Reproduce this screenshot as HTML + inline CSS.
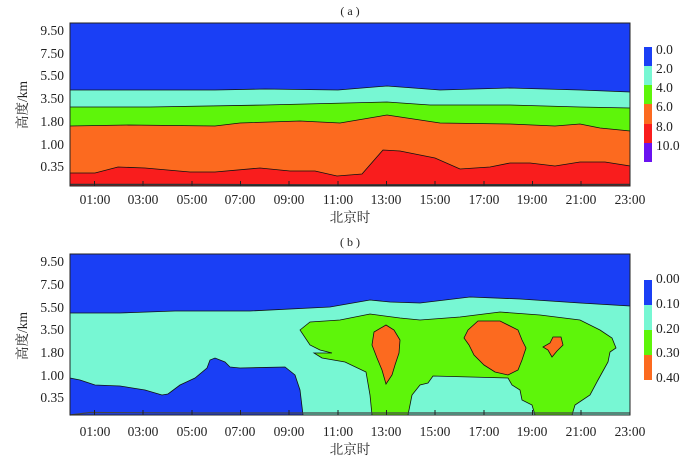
<!DOCTYPE html>
<html><head><meta charset="utf-8"><style>
body{margin:0;background:#fff}
svg text{font-family:"Liberation Serif","Noto Serif CJK SC",serif;fill:#222}
</style></head><body>
<svg width="700" height="460" viewBox="0 0 700 460" xmlns="http://www.w3.org/2000/svg">
<text x="350" y="15" font-size="12" text-anchor="middle">( a )</text>
<g stroke="#111" stroke-width="0.8">
<rect x="70" y="23" width="560" height="163" fill="#1a3ff5" stroke="none"/>
<path d="M70,90 L150,90 L215,90 L265,89 L338,90 L387,86 L440,90 L510,88 L580,90 L630,92 L630,186 L70,186Z" fill="#77f7d3"/>
<path d="M70,107 L150,107 L265,105 L387,102 L430,105 L510,105 L580,107 L630,108 L630,186 L70,186Z" fill="#5ef50a"/>
<path d="M70,126 L130,125 L215,126 L240,123 L300,121 L340,123 L387,115 L440,123 L510,124 L555,126 L580,124 L600,128 L630,131 L630,186 L70,186Z" fill="#fc6a1f"/>
<path d="M70,173 L95,173 L118,167 L145,168 L190,172 L215,172 L260,168 L290,171 L315,171 L337,176 L362,174 L383,150 L400,151 L435,158 L460,169 L490,167 L510,163 L530,163 L555,166 L580,162 L605,162 L630,166 L630,186 L70,186Z" fill="#f91d1d"/>
<path d="M70,184.5 L200,184.5 L340,185 L630,184.5" fill="none" stroke="#333" stroke-width="1.5"/>
</g>
<rect x="70" y="23" width="560" height="163" fill="none" stroke="#222" stroke-width="1"/>
<g font-size="13.5">
<text x="64" y="35" text-anchor="end">9.50</text>
<text x="64" y="58" text-anchor="end">7.50</text>
<text x="64" y="80" text-anchor="end">5.50</text>
<text x="64" y="103" text-anchor="end">3.50</text>
<text x="64" y="126" text-anchor="end">1.80</text>
<text x="64" y="149" text-anchor="end">1.00</text>
<text x="64" y="171" text-anchor="end">0.35</text>
</g>
<text transform="translate(27,105) rotate(-90)" font-size="13.5" text-anchor="middle">高度/km</text>
<g stroke="#222" stroke-width="1">
<line x1="94.5" y1="186" x2="94.5" y2="181"/><line x1="143" y1="186" x2="143" y2="181"/><line x1="192" y1="186" x2="192" y2="181"/><line x1="240.5" y1="186" x2="240.5" y2="181"/><line x1="289" y1="186" x2="289" y2="181"/><line x1="338" y1="186" x2="338" y2="181"/><line x1="386.5" y1="186" x2="386.5" y2="181"/><line x1="435" y1="186" x2="435" y2="181"/><line x1="484" y1="186" x2="484" y2="181"/><line x1="532.5" y1="186" x2="532.5" y2="181"/><line x1="581" y1="186" x2="581" y2="181"/>
</g>
<g font-size="13.5" text-anchor="middle">
<text x="95" y="204">01:00</text><text x="143" y="204">03:00</text><text x="192" y="204">05:00</text><text x="240" y="204">07:00</text><text x="289" y="204">09:00</text><text x="338" y="204">11:00</text><text x="386" y="204">13:00</text><text x="435" y="204">15:00</text><text x="484" y="204">17:00</text><text x="532" y="204">19:00</text><text x="581" y="204">21:00</text><text x="630" y="204">23:00</text>
</g>
<text x="350" y="222" font-size="13.5" text-anchor="middle">北京时</text>
<rect x="644" y="47" width="8" height="19" fill="#1a3ff5"/>
<rect x="644" y="66" width="8" height="19" fill="#77f7d3"/>
<rect x="644" y="85" width="8" height="19" fill="#5ef50a"/>
<rect x="644" y="104" width="8" height="20" fill="#fc6a1f"/>
<rect x="644" y="124" width="8" height="19" fill="#f91d1d"/>
<rect x="644" y="143" width="8" height="19" fill="#6a12f0"/>
<g font-size="13.5">
<text x="656" y="54">0.0</text><text x="656" y="73">2.0</text><text x="656" y="92">4.0</text><text x="656" y="111">6.0</text><text x="656" y="131">8.0</text><text x="656" y="150">10.0</text>
</g>

<text x="350" y="246" font-size="12" text-anchor="middle">( b )</text>
<g stroke="#111" stroke-width="0.8">
<rect x="70" y="254" width="560" height="161" fill="#1a3ff5" stroke="none"/>
<path d="M70,313 L120,313 L175,311 L250,311 L330,307 L370,300 L390,302 L420,303 L470,297 L520,299 L580,303 L630,306 L630,415 L70,415Z" fill="#77f7d3"/>
<path d="M300,330 L310,322 L340,320 L370,314 L400,318 L420,320 L460,317 L500,312 L540,315 L580,320 L600,330 L612,338 L616,348 L610,352 L608,362 L598,380 L590,395 L575,405 L572,415 L535,415 L532,405 L522,400 L520,390 L512,385 L508,378 L433,376 L428,383 L420,385 L412,395 L410,405 L408,415 L372,415 L370,395 L366,372 L345,362 L322,358 L314,353 L332,353 L320,350 L310,345 Z" fill="#5ef50a"/>
<path d="M386,325 L394,330 L400,340 L399,353 L395,365 L392,375 L386,384 L382,370 L377,358 L372,345 L374,332 Z" fill="#fc6a1f"/>
<path d="M478,321 L500,321 L518,330 L522,340 L526,348 L522,360 L518,370 L508,375 L495,372 L484,365 L474,355 L469,345 L464,338 L468,330 Z" fill="#fc6a1f"/>
<path d="M553,337 L561,337 L563,345 L557,351 L552,357 L548,350 L543,347 L550,343 Z" fill="#fc6a1f"/>
<path d="M70,378 L80,380 L95,385 L120,386 L145,390 L162,395 L168,394 L180,385 L195,378 L207,368 L210,360 L215,358 L225,362 L230,367 L240,368 L285,367 L295,375 L300,390 L303,415 L70,415Z" fill="#1a3ff5"/>
<path d="M70,415 L90,412.5 L200,413 L630,413" fill="none" stroke="#444" stroke-width="1.2"/>
</g>
<rect x="70" y="254" width="560" height="161" fill="none" stroke="#222" stroke-width="1"/>
<g font-size="13.5">
<text x="64" y="266" text-anchor="end">9.50</text>
<text x="64" y="289" text-anchor="end">7.50</text>
<text x="64" y="312" text-anchor="end">5.50</text>
<text x="64" y="334" text-anchor="end">3.50</text>
<text x="64" y="357" text-anchor="end">1.80</text>
<text x="64" y="380" text-anchor="end">1.00</text>
<text x="64" y="402" text-anchor="end">0.35</text>
</g>
<text transform="translate(27,336) rotate(-90)" font-size="13.5" text-anchor="middle">高度/km</text>
<g stroke="#222" stroke-width="1">
<line x1="94.5" y1="415" x2="94.5" y2="410"/><line x1="143" y1="415" x2="143" y2="410"/><line x1="192" y1="415" x2="192" y2="410"/><line x1="240.5" y1="415" x2="240.5" y2="410"/><line x1="289" y1="415" x2="289" y2="410"/><line x1="338" y1="415" x2="338" y2="410"/><line x1="386.5" y1="415" x2="386.5" y2="410"/><line x1="435" y1="415" x2="435" y2="410"/><line x1="484" y1="415" x2="484" y2="410"/><line x1="532.5" y1="415" x2="532.5" y2="410"/><line x1="581" y1="415" x2="581" y2="410"/>
</g>
<g font-size="13.5" text-anchor="middle">
<text x="95" y="436">01:00</text><text x="143" y="436">03:00</text><text x="192" y="436">05:00</text><text x="240" y="436">07:00</text><text x="289" y="436">09:00</text><text x="338" y="436">11:00</text><text x="386" y="436">13:00</text><text x="435" y="436">15:00</text><text x="484" y="436">17:00</text><text x="532" y="436">19:00</text><text x="581" y="436">21:00</text><text x="630" y="436">23:00</text>
</g>
<text x="350" y="454" font-size="13.5" text-anchor="middle">北京时</text>
<rect x="644" y="280" width="8" height="25" fill="#1a3ff5"/>
<rect x="644" y="305" width="8" height="25" fill="#77f7d3"/>
<rect x="644" y="330" width="8" height="25" fill="#5ef50a"/>
<rect x="644" y="355" width="8" height="25" fill="#fc6a1f"/>
<g font-size="13.5">
<text x="656" y="283">0.00</text><text x="656" y="308">0.10</text><text x="656" y="333">0.20</text><text x="656" y="357">0.30</text><text x="656" y="382">0.40</text>
</g>
</svg>
</body></html>
